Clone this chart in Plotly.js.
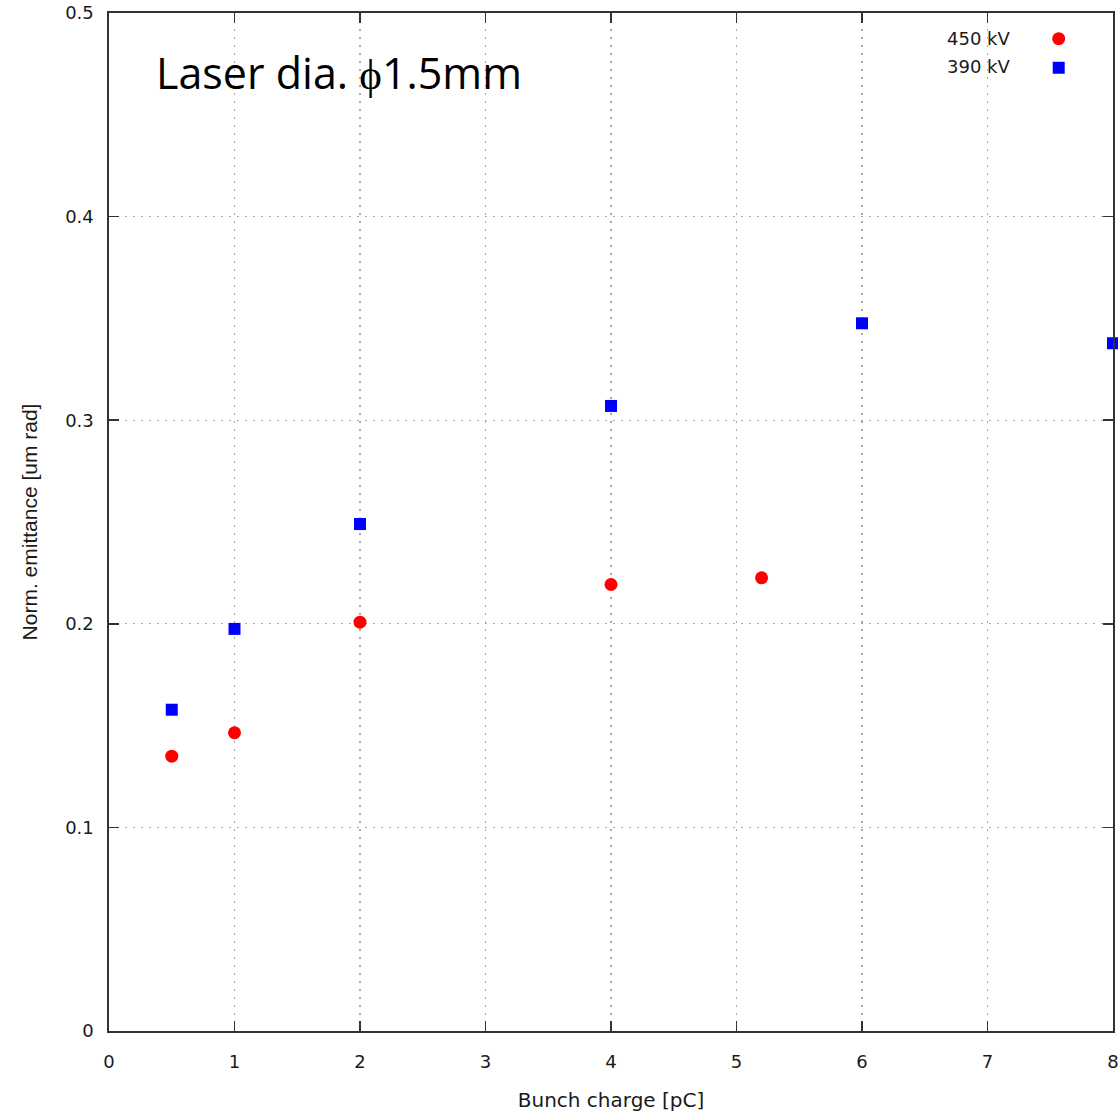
<!DOCTYPE html>
<html>
<head>
<meta charset="utf-8">
<script src="https://cdn.plot.ly/plotly-3.0.1.min.js"></script>
<style>html,body{margin:0;padding:0;background:#fff;}#chart{width:1118px;height:1117px;}</style>
</head>
<body>
<div id="chart"></div>
<script>
// Data
const seriesNames = ["450 kV", "390 kV"];
const charge450 = [0.5, 1, 2, 4, 5.2];
const emit450   = [0.135, 0.1465, 0.2008, 0.2193, 0.2226];
const charge390 = [0.5, 1, 2, 4, 6, 8];
const emit390   = [0.1578, 0.1975, 0.249, 0.307, 0.3476, 0.3378];
const xTickVals = [0, 1, 2, 3, 4, 5, 6, 7, 8];
const yTickVals = [0, 0.1, 0.2, 0.3, 0.4, 0.5];
const noteText = "Laser dia. \u03D51.5mm";
const xTitle = "Bunch charge [pC]";
const yTitle = "Norm. emittance [um rad]";

const traces = [
  {x: charge450, y: emit450, name: seriesNames[0], legendgroup: "a", type: "scatter", mode: "markers",
   cliponaxis: false, marker: {symbol: "circle", size: 13, color: "#ff0000"}},
  {x: charge390, y: emit390, name: seriesNames[1], legendgroup: "b", type: "scatter", mode: "markers",
   cliponaxis: false, marker: {symbol: "square", size: 12, color: "#0000ff"}}
];

const tickFont = {family: "DejaVu Sans", size: 18, color: "#1a1a1a"};
const gridCommon = {
  showgrid: true, gridcolor: "#a8a8a8", gridwidth: 1.2, griddash: "1.5px,6.5px",
  showline: true, linecolor: "#333", linewidth: 1.6, mirror: "allticks",
  ticks: "inside", ticklen: 10, tickwidth: 1.6, tickcolor: "#333",
  zeroline: false, tickfont: tickFont, ticklabeloverflow: "allow"
};

const layout = {
  width: 1118, height: 1117,
  margin: {l: 109, r: 5, t: 13, b: 86, autoexpand: false},
  paper_bgcolor: "#fff", plot_bgcolor: "#fff",
  showlegend: true,
  legend: {x: 0.926, xanchor: "left", y: 0.989, yanchor: "top",
           traceorder: "grouped", tracegroupgap: 10,
           bgcolor: "rgba(0,0,0,0)", font: {family: "DejaVu Sans", size: 7, color: "rgba(0,0,0,0)"},
           itemclick: false},
  xaxis: Object.assign({}, gridCommon, {
    range: [0, 8], tickvals: xTickVals, ticklabelstandoff: 14, automargin: false,
    title: {text: xTitle, font: {family: "DejaVu Sans", size: 20, color: "#1a1a1a"}, standoff: 22}
  }),
  yaxis: Object.assign({}, gridCommon, {
    range: [0, 0.5], tickvals: yTickVals, ticklabelstandoff: 10, automargin: false,
    title: {text: yTitle, font: {family: "Liberation Sans", size: 21, color: "#1a1a1a"}, standoff: 22}
  }),
  annotations: [
    {text: noteText, xref: "paper", yref: "paper", x: 0.0448, y: 0.9416, xanchor: "left", yanchor: "middle",
     showarrow: false, font: {family: "Open Sans", size: 43, color: "#000"}},
    {text: seriesNames[0], xref: "paper", yref: "paper", x: 0.9004, y: 0.9754, xanchor: "right", yanchor: "middle",
     showarrow: false, font: {family: "DejaVu Sans", size: 18, color: "#1a1a1a"}},
    {text: seriesNames[1], xref: "paper", yref: "paper", x: 0.9004, y: 0.947, xanchor: "right", yanchor: "middle",
     showarrow: false, font: {family: "DejaVu Sans", size: 18, color: "#1a1a1a"}}
  ]
};

Plotly.newPlot("chart", traces, layout, {staticPlot: true, displayModeBar: false});
</script>
</body>
</html>
